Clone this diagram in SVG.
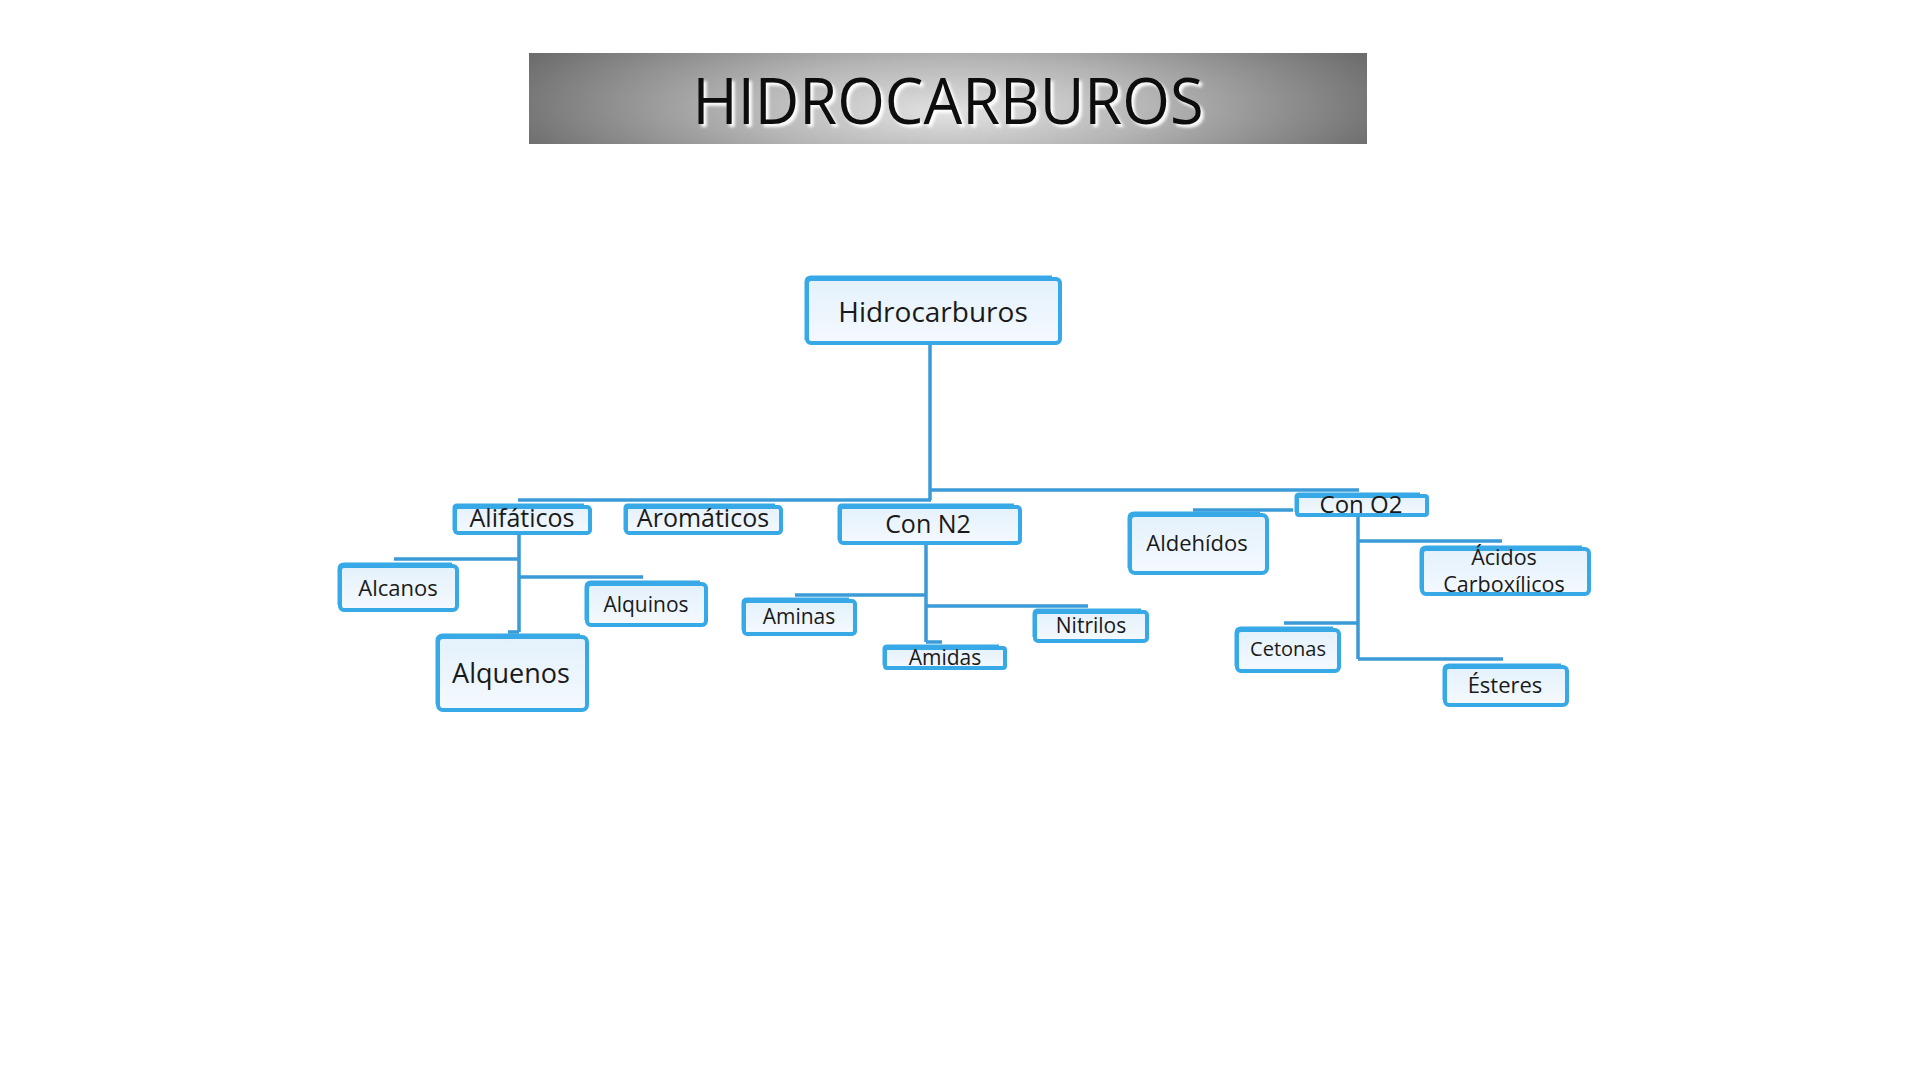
<svg xmlns="http://www.w3.org/2000/svg" width="1920" height="1080" viewBox="0 0 1920 1080">
  <defs>
    <radialGradient id="banner" cx="50%" cy="55%" r="55%" fx="50%" fy="60%" gradientTransform="translate(0.5 0.55) scale(1 2.2) translate(-0.5 -0.55)">
      <stop offset="0" stop-color="#e2e2e2"/>
      <stop offset="0.45" stop-color="#b4b4b4"/>
      <stop offset="1" stop-color="#6c6c6c"/>
    </radialGradient>
    <linearGradient id="boxfill" x1="0" y1="0" x2="0" y2="1">
      <stop offset="0" stop-color="#e4f1fb"/>
      <stop offset="1" stop-color="#f4f9fe"/>
    </linearGradient>
    <filter id="glow" x="-5%" y="-20%" width="110%" height="140%">
      <feGaussianBlur stdDeviation="1.5"/>
    </filter>
  </defs>
  <style>
    .box { fill: url(#boxfill); stroke: #36a9e6; stroke-width: 4; }
    .edge { fill: none; stroke: #36a9e6; stroke-width: 3; }
    .lbl { font-family: "Open Sans", "Noto Sans", "DejaVu Sans", sans-serif; fill: #1a1a1a; text-anchor: middle; }
    .conn { fill: none; stroke: #3a9bd8; stroke-width: 3.5; }
    .title { font-family: "Open Sans", "Noto Sans", "DejaVu Sans", sans-serif; font-size: 64px; text-anchor: middle; }
  </style>
  <rect width="1920" height="1080" fill="#ffffff"/>

  <g id="title">
    <rect x="529" y="53" width="838" height="91" fill="url(#banner)"/>
    <text class="title" x="951" y="127" textLength="511" lengthAdjust="spacingAndGlyphs" fill="#ffffff" filter="url(#glow)">HIDROCARBUROS</text>
    <text class="title" x="948" y="124" textLength="511" lengthAdjust="spacingAndGlyphs" fill="#0d0d0d">HIDROCARBUROS</text>
  </g>

  <g id="connectors">
    <path class="conn" d="M930 343 V500"/>
    <path class="conn" d="M518 500 H931"/>
    <path class="conn" d="M930 490 H1359"/>
    <path class="conn" d="M519 533 V632 M394 559 H519 M519 577 H643 M508 632 H519"/>
    <path class="conn" d="M926 543 V642 M795 595 H926 M926 606 H1088 M926 642 H942"/>
    <path class="conn" d="M1193 510 H1293"/>
    <path class="conn" d="M1358 515 V659 M1358 541 H1502 M1284 623 H1358 M1358 659 H1503"/>
  </g>

  <g id="node-hidrocarburos">
    <rect class="box" x="807" y="279" width="253" height="64" rx="4"/>
    <path class="edge" d="M806 340 V282 Q806 277 811 277 H1052"/>
    <text class="lbl" x="933" y="322" font-size="28">Hidrocarburos</text>
  </g>
  <g id="node-alifaticos">
    <rect class="box" x="455" y="507" width="135" height="26" rx="3"/>
    <path class="edge" d="M454 530 V508 Q454 505 457 505 H584"/>
    <text class="lbl" x="522" y="527" font-size="25">Alifáticos</text>
  </g>
  <g id="node-aromaticos">
    <rect class="box" x="626" y="507" width="155" height="26" rx="3"/>
    <path class="edge" d="M625 530 V508 Q625 505 628 505 H775"/>
    <text class="lbl" x="703" y="527" font-size="25">Aromáticos</text>
  </g>
  <g id="node-conn2">
    <rect class="box" x="840" y="507" width="180" height="36" rx="3"/>
    <path class="edge" d="M839 540 V508 Q839 505 842 505 H1014"/>
    <text class="lbl" x="928" y="533" font-size="25">Con N2</text>
  </g>
  <g id="node-aldehidos">
    <rect class="box" x="1130" y="515" width="137" height="58" rx="5"/>
    <path class="edge" d="M1129 568 V518 Q1129 513 1134 513 H1260"/>
    <text class="lbl" x="1197" y="551" font-size="22">Aldehídos</text>
  </g>
  <g id="node-cono2">
    <rect class="box" x="1297" y="496" width="130" height="19" rx="2"/>
    <path class="edge" d="M1296 512 V497 Q1296 494 1299 494 H1420"/>
    <text class="lbl" x="1361" y="513" font-size="24">Con O2</text>
  </g>
  <g id="node-alcanos">
    <rect class="box" x="340" y="566" width="117" height="44" rx="4"/>
    <path class="edge" d="M339 605 V569 Q339 564 344 564 H452"/>
    <text class="lbl" x="398" y="596" font-size="22">Alcanos</text>
  </g>
  <g id="node-alquinos">
    <rect class="box" x="587" y="584" width="119" height="41" rx="4"/>
    <path class="edge" d="M586 620 V587 Q586 582 591 582 H700"/>
    <text class="lbl" x="646" y="612" font-size="21">Alquinos</text>
  </g>
  <g id="node-alquenos">
    <rect class="box" x="438" y="637" width="149" height="73" rx="5"/>
    <path class="edge" d="M437 704 V641 Q437 635 443 635 H580"/>
    <text class="lbl" x="511" y="683" font-size="27">Alquenos</text>
  </g>
  <g id="node-aminas">
    <rect class="box" x="744" y="601" width="111" height="33" rx="3"/>
    <path class="edge" d="M743 630 V603 Q743 599 747 599 H849"/>
    <text class="lbl" x="799" y="624" font-size="21">Aminas</text>
  </g>
  <g id="node-amidas">
    <rect class="box" x="885" y="648" width="120" height="20" rx="2"/>
    <path class="edge" d="M884 665 V649 Q884 646 887 646 H999"/>
    <text class="lbl" x="945" y="665" font-size="21">Amidas</text>
  </g>
  <g id="node-nitrilos">
    <rect class="box" x="1035" y="612" width="112" height="29" rx="3"/>
    <path class="edge" d="M1034 637 V614 Q1034 610 1038 610 H1141"/>
    <text class="lbl" x="1091" y="633" font-size="21">Nitrilos</text>
  </g>
  <g id="node-acidos">
    <rect class="box" x="1422" y="549" width="167" height="45" rx="4"/>
    <path class="edge" d="M1421 589 V552 Q1421 547 1426 547 H1582"/>
    <text class="lbl" x="1504" y="565" font-size="21.5">Ácidos</text>
    <text class="lbl" x="1504" y="592" font-size="21.5">Carboxílicos</text>
  </g>
  <g id="node-cetonas">
    <rect class="box" x="1237" y="630" width="102" height="41" rx="4"/>
    <path class="edge" d="M1236 666 V633 Q1236 628 1241 628 H1333"/>
    <text class="lbl" x="1288" y="656" font-size="20">Cetonas</text>
  </g>
  <g id="node-esteres">
    <rect class="box" x="1445" y="667" width="122" height="38" rx="4"/>
    <path class="edge" d="M1444 700 V670 Q1444 665 1449 665 H1561"/>
    <text class="lbl" x="1505" y="693" font-size="22">Ésteres</text>
  </g>
</svg>
